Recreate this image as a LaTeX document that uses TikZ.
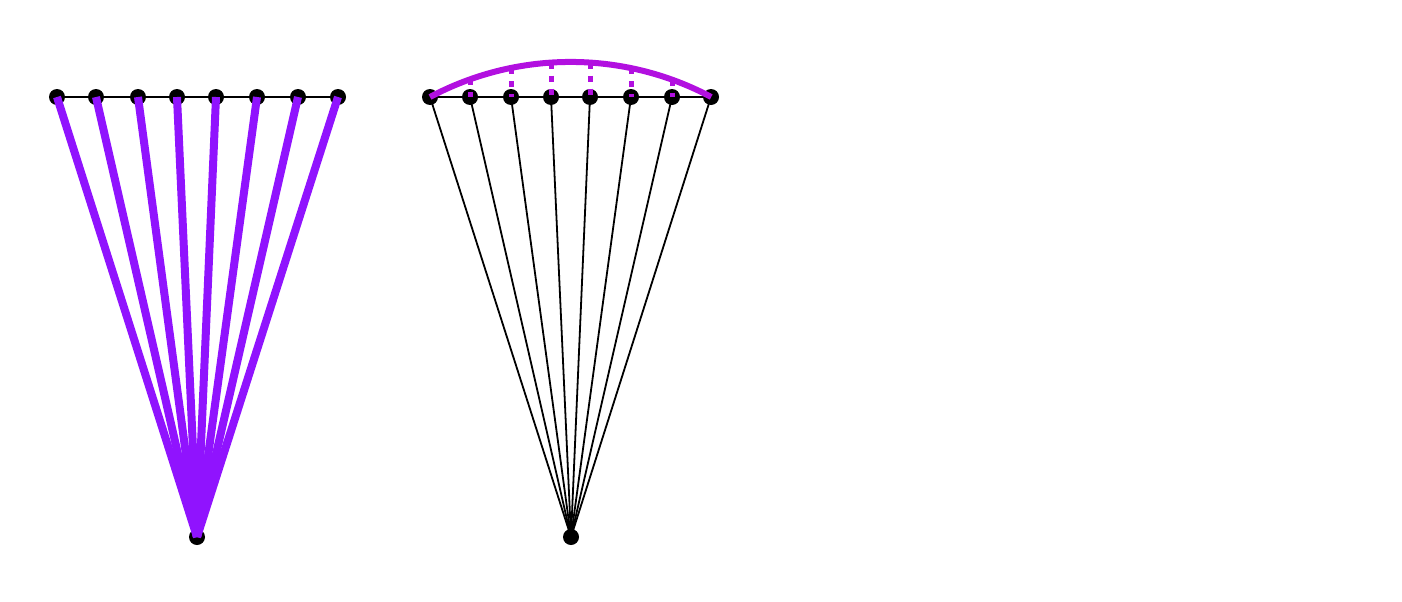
\documentclass[tikz,border=0pt]{standalone}
\definecolor{violetline}{RGB}{144,19,254}
\definecolor{arcpurple}{RGB}{178,16,224}
\tikzset{
  dot/.style={circle,fill=black,inner sep=0pt,minimum size=16pt},
  fatline/.style={violetline,line width=8pt},
  thinline/.style={black,line width=1.8pt},
  baseline/.style={black,line width=2.2pt},
  arcline/.style={arcpurple,line width=6pt},
  dashline/.style={arcpurple,line width=5pt,dash pattern=on 6pt off 7pt}
}
\begin{document}
\begin{tikzpicture}[x=1pt,y=-1pt]
\useasboundingbox (0,0) rectangle (1402,602);
% left fan
\foreach \i/\x in {1/57,2/96,3/138,4/177,5/216,6/257,7/298,8/338}{
  \coordinate (lp\i) at (\x,97);
}
\coordinate (lb) at (197,537);
\draw[baseline] (lp1) -- (lp8);
\foreach \i in {1,...,8}{ \node[dot] (L\i) at (lp\i) {}; }
\node[dot] (LB) at (lb) {};
\foreach \i in {1,...,8}{ \draw[fatline] (L\i.center) -- (LB.center); }
% right fan
\foreach \i/\x in {1/430,2/470,3/511,4/551,5/590,6/631,7/672,8/711}{
  \coordinate (rp\i) at (\x,97);
}
\coordinate (rb) at (571,537);
\draw[baseline] (rp1) -- (rp8);
\foreach \i in {1,...,8}{ \node[dot] (R\i) at (rp\i) {}; }
\node[dot] (RB) at (rb) {};
\foreach \i in {1,...,8}{ \draw[thinline] (R\i.center) -- (RB.center); }
% arc points
\coordinate (a2) at (470,79.4);
\coordinate (a3) at (511,68.0);
\coordinate (a4) at (551,62.6);
\coordinate (a5) at (590,62.6);
\coordinate (a6) at (631,68.2);
\coordinate (a7) at (672,79.7);
\foreach \i in {2,...,7}{ \draw[dashline] (a\i) -- (R\i.center); }
\draw[arcline] (R1.center) arc[start angle=-118, end angle=-62, radius=299.5];
\end{tikzpicture}
\end{document}
